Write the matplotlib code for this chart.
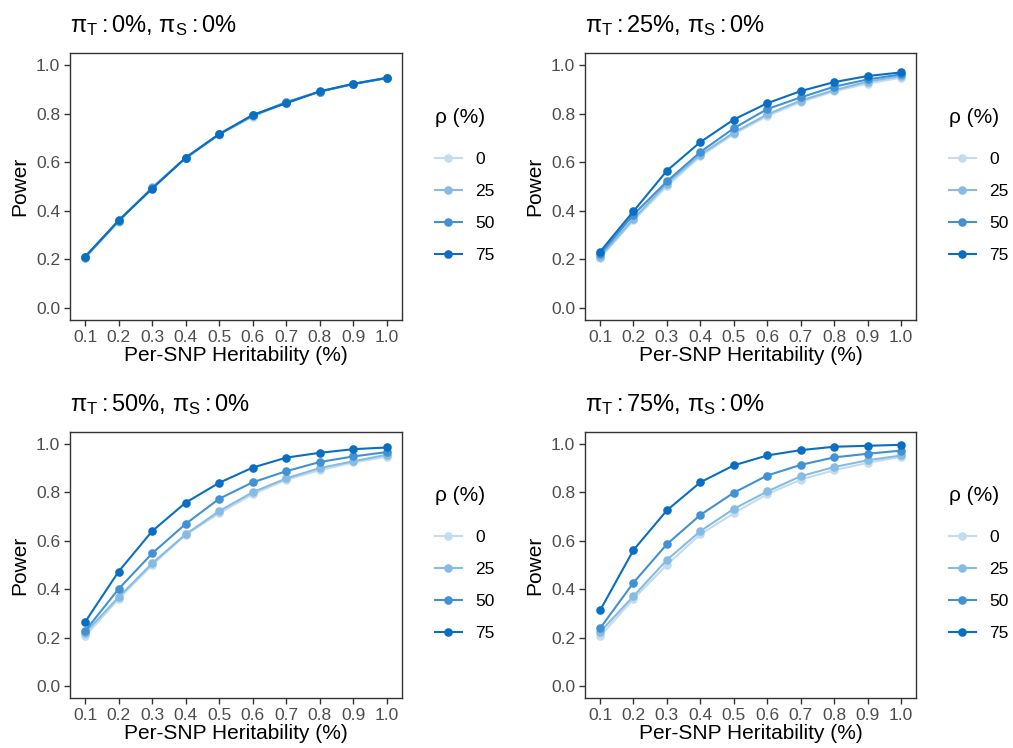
import matplotlib
matplotlib.use("Agg")
import matplotlib.pyplot as plt
from matplotlib.lines import Line2D

plt.rcParams["font.family"] = ["Liberation Sans", "DejaVu Sans"]
plt.rcParams["mathtext.fontset"] = "custom"
plt.rcParams["mathtext.rm"] = "Liberation Sans"
plt.rcParams["mathtext.it"] = "Liberation Sans:italic"
plt.rcParams["mathtext.sf"] = "Liberation Sans"

# Per-SNP heritability (%) on the x axis
heritability = [0.1, 0.2, 0.3, 0.4, 0.5, 0.6, 0.7, 0.8, 0.9, 1.0]
x_ticklabels = ["0.1", "0.2", "0.3", "0.4", "0.5", "0.6", "0.7", "0.8", "0.9", "1.0"]
y_ticks = [0.0, 0.2, 0.4, 0.6, 0.8, 1.0]

rho_levels = ["0", "25", "50", "75"]
rho_colors = ["#C2DCF0", "#86BCE4", "#4291D3", "#0A6EC3"]

# Power curves for each pi_T setting (pi_S fixed at 0%), one list per rho level
power_piT0 = {
    "0":  [0.205, 0.355, 0.495, 0.616, 0.714, 0.788, 0.845, 0.890, 0.922, 0.946],
    "25": [0.207, 0.357, 0.496, 0.617, 0.715, 0.790, 0.846, 0.891, 0.922, 0.946],
    "50": [0.209, 0.359, 0.493, 0.618, 0.716, 0.793, 0.848, 0.891, 0.923, 0.947],
    "75": [0.211, 0.360, 0.491, 0.619, 0.716, 0.795, 0.843, 0.892, 0.923, 0.948],
}
power_piT25 = {
    "0":  [0.205, 0.360, 0.501, 0.624, 0.716, 0.790, 0.848, 0.892, 0.924, 0.948],
    "25": [0.211, 0.367, 0.512, 0.631, 0.722, 0.797, 0.854, 0.897, 0.932, 0.955],
    "50": [0.220, 0.384, 0.521, 0.642, 0.740, 0.819, 0.867, 0.911, 0.941, 0.962],
    "75": [0.231, 0.398, 0.565, 0.683, 0.776, 0.843, 0.893, 0.930, 0.955, 0.970],
}
power_piT50 = {
    "0":  [0.205, 0.360, 0.500, 0.625, 0.714, 0.793, 0.852, 0.892, 0.924, 0.948],
    "25": [0.219, 0.367, 0.507, 0.627, 0.723, 0.801, 0.858, 0.901, 0.929, 0.956],
    "50": [0.227, 0.401, 0.548, 0.670, 0.774, 0.842, 0.888, 0.926, 0.949, 0.967],
    "75": [0.264, 0.473, 0.640, 0.758, 0.840, 0.903, 0.944, 0.964, 0.979, 0.986],
}
power_piT75 = {
    "0":  [0.205, 0.360, 0.501, 0.627, 0.714, 0.793, 0.853, 0.892, 0.922, 0.948],
    "25": [0.223, 0.371, 0.521, 0.640, 0.732, 0.804, 0.867, 0.905, 0.933, 0.953],
    "50": [0.238, 0.427, 0.586, 0.707, 0.799, 0.870, 0.914, 0.945, 0.960, 0.973],
    "75": [0.312, 0.562, 0.726, 0.842, 0.912, 0.953, 0.975, 0.989, 0.993, 0.997],
}

panel_titles = [
    r"$\mathrm{π}_{\mathrm{T}}:$0%, $\mathrm{π}_{\mathrm{S}}:$0%",
    r"$\mathrm{π}_{\mathrm{T}}:$25%, $\mathrm{π}_{\mathrm{S}}:$0%",
    r"$\mathrm{π}_{\mathrm{T}}:$50%, $\mathrm{π}_{\mathrm{S}}:$0%",
    r"$\mathrm{π}_{\mathrm{T}}:$75%, $\mathrm{π}_{\mathrm{S}}:$0%",
]
panel_data = [power_piT0, power_piT25, power_piT50, power_piT75]

W, H = 1013, 748
fig = plt.figure(figsize=(W / 100, H / 100), dpi=100)

# panel boxes in pixels: (left, top, right, bottom)
boxes = [
    (70, 53, 402, 320),
    (585, 53, 916, 320),
    (70, 432, 402, 698),
    (585, 432, 916, 698),
]
legend_anchor = [(435, 108), (949, 108), (435, 486), (949, 486)]

border = "#333333"
tick_grey = "#4D4D4D"

for i, (box, data, title) in enumerate(zip(boxes, panel_data, panel_titles)):
    l, t, r, b = box
    ax = fig.add_axes([l / W, 1 - b / H, (r - l) / W, (b - t) / H])
    handles = []
    for lvl, col in zip(rho_levels, rho_colors):
        ax.plot(heritability, data[lvl], color=col, lw=1.5, marker="o",
                markersize=6.2, markeredgewidth=0, zorder=3)
        handles.append(Line2D([], [], color=col, lw=1.5, marker="o",
                              markersize=6.2, markeredgewidth=0))
    ax.set_xlim(0.055, 1.045)
    ax.set_ylim(-0.05, 1.05)
    ax.set_xticks(heritability)
    ax.set_xticklabels(x_ticklabels)
    ax.set_yticks(y_ticks)
    ax.set_yticklabels([f"{v:.1f}" for v in y_ticks])
    ax.tick_params(axis="both", colors=border, labelcolor=tick_grey,
                   labelsize=12.5, length=4, width=1.0, pad=3)
    for s in ax.spines.values():
        s.set_color(border)
        s.set_linewidth(1.0)
    ax.set_xlabel("Per-SNP Heritability (%)", fontsize=15, color="black", labelpad=1)
    ax.set_ylabel("Power", fontsize=15, color="black", labelpad=5)
    ax.set_title(title, fontsize=17, loc="left", pad=15, color="black")

    lx, ly = legend_anchor[i]
    leg = ax.legend(handles, rho_levels, title="ρ (%)", frameon=False,
                    loc="upper left", bbox_to_anchor=(lx / W, 1 - ly / H),
                    bbox_transform=fig.transFigure, fontsize=12.5,
                    title_fontsize=15, handlelength=1.55, handletextpad=0.75,
                    labelspacing=0.97, borderpad=0, borderaxespad=0)
    leg._legend_box.align = "left"
    leg._legend_box.sep = 18
    leg.get_title().set_color("black")

fig.savefig("out.png", dpi=100)
